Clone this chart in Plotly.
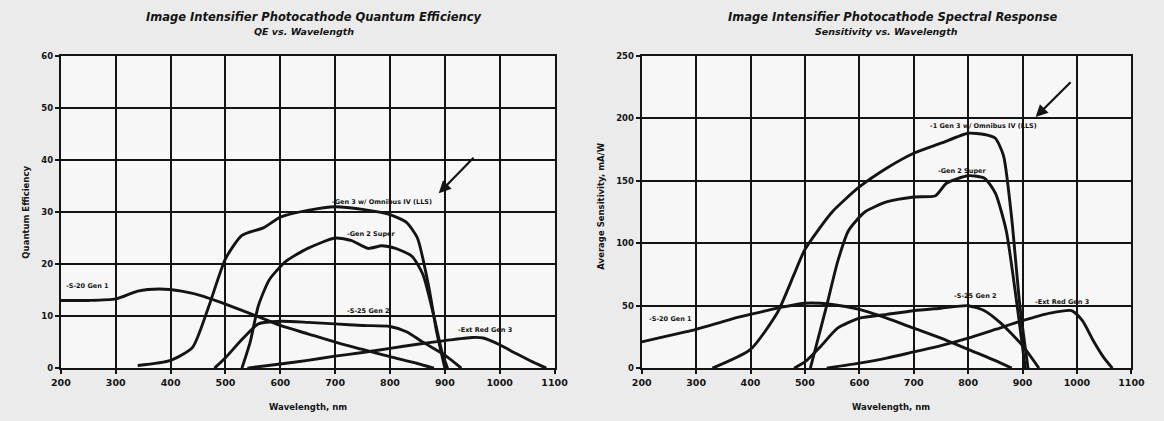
import plotly.graph_objects as go

# ---------------- Left chart: Quantum efficiency (%) ----------------
s20_wl = [200, 250, 300, 340, 380, 420, 460, 500, 550, 600, 650, 700, 750, 800, 850, 880]
s20_qe = [13.0, 13.0, 13.3, 14.8, 15.2, 14.8, 13.8, 12.3, 10.3, 8.2, 6.6, 5.0, 3.6, 2.2, 0.9, 0.0]

g3_wl = [340, 400, 440, 470, 500, 530, 570, 600, 650, 700, 750, 800, 830, 850, 870, 885, 900]
g3_qe = [0.5, 1.5, 4.0, 12.0, 21.0, 25.5, 27.0, 29.0, 30.3, 31.0, 30.5, 29.5, 28.0, 25.0, 16.0, 7.0, 0.0]

g2s_wl = [530, 545, 560, 580, 610, 650, 700, 730, 760, 785, 810, 840, 860, 880, 895, 905]
g2s_qe = [0.0, 5.0, 12.0, 17.0, 20.5, 23.0, 25.0, 24.5, 23.0, 23.5, 23.0, 21.5, 18.0, 10.0, 3.0, 0.0]

s25_wl = [480, 500, 530, 560, 600, 650, 700, 750, 800, 830, 860, 900, 930]
s25_qe = [0.0, 2.0, 5.5, 8.5, 9.0, 8.8, 8.5, 8.2, 8.0, 7.0, 5.0, 2.5, 0.0]

ext_wl = [540, 600, 650, 700, 750, 800, 850, 900, 950, 970, 1000, 1030, 1060, 1085]
ext_qe = [0.0, 0.8, 1.5, 2.3, 3.0, 3.8, 4.6, 5.3, 5.9, 5.8, 4.5, 2.8, 1.2, 0.0]

# ---------------- Right chart: sensitivity (mA/W) ----------------
s20_sens = [21, 26, 31, 36, 41, 45, 49, 52, 51, 47, 40, 32, 24, 15, 6, 0]
g3r_wl = [330, 400, 450, 480, 500, 550, 600, 650, 700, 750, 800, 830, 850, 865, 880, 895, 910]
g3r_sens = [0, 15, 45, 75, 95, 125, 145, 160, 172, 180, 188, 187, 184, 170, 120, 50, 0]
g2r_wl = [510, 540, 560, 580, 610, 650, 700, 740, 760, 800, 830, 850, 870, 890, 905]
g2r_sens = [0, 50, 85, 110, 125, 133, 137, 138, 148, 154, 152, 140, 110, 50, 0]
s25_sens = [0, 5, 18, 32, 40, 43, 46, 48, 50, 46, 36, 18, 0]
extr_wl = [540, 600, 650, 700, 750, 800, 850, 900, 950, 990, 1010, 1030, 1050, 1065]
extr_sens = [0, 4, 8, 13, 18, 24, 31, 38, 44, 46, 38, 22, 8, 0]

x_ticks = [200, 300, 400, 500, 600, 700, 800, 900, 1000, 1100]

W, H = 1164, 421
def px(x): return x / W
def py(y): return 1 - y / H

INK = "#141414"
FONT = "DejaVu Sans"

fig = go.Figure()

def add(x, y, xa, ya):
    fig.add_trace(go.Scatter(x=x, y=y, mode="lines", xaxis=xa, yaxis=ya,
                             line=dict(color=INK, width=2.9, shape="spline", smoothing=0.6),
                             showlegend=False, hoverinfo="skip"))

add(s20_wl, s20_qe, "x", "y")
add(g3_wl, g3_qe, "x", "y")
add(g2s_wl, g2s_qe, "x", "y")
add(s25_wl, s25_qe, "x", "y")
add(ext_wl, ext_qe, "x", "y")

add(s20_wl, s20_sens, "x2", "y2")
add(g3r_wl, g3r_sens, "x2", "y2")
add(g2r_wl, g2r_sens, "x2", "y2")
add(s25_wl, s25_sens, "x2", "y2")
add(extr_wl, extr_sens, "x2", "y2")

xtickfont = dict(family=FONT, size=9.5, color=INK, weight="bold")
ytickfont = dict(family=FONT, size=8.5, color=INK, weight="bold")
axis_common = dict(showgrid=True, gridcolor=INK, gridwidth=1.8, showline=True, linecolor=INK,
                   linewidth=2.2, mirror=True, ticks="outside", ticklen=4, tickcolor=INK,
                   tickwidth=1.8, zeroline=False, fixedrange=True)

ydom = [py(372), py(52)]
fig.update_layout(
    width=W, height=H, autosize=False,
    margin=dict(l=0, r=0, t=0, b=0),
    paper_bgcolor="#ebebeb", plot_bgcolor="#f7f7f7",
    xaxis=dict(domain=[px(52), px(556)], range=[200, 1100], tickvals=x_ticks, anchor="y",
               tickfont=xtickfont, **axis_common),
    yaxis=dict(domain=ydom, range=[0, 60], dtick=10, anchor="x", tickfont=ytickfont, **axis_common),
    xaxis2=dict(domain=[px(645), px(1145)], range=[200, 1100], tickvals=x_ticks, anchor="y2",
                tickfont=xtickfont, **axis_common),
    yaxis2=dict(domain=ydom, range=[0, 250], dtick=50, anchor="x2", tickfont=ytickfont, **axis_common),
)

def paper_text(x, y, text, size, angle=0):
    fig.add_annotation(x=px(x), y=py(y), xref="paper", yref="paper", text=text, showarrow=False,
                       textangle=angle, xanchor="center", yanchor="middle", borderpad=0,
                       font=dict(family=FONT, size=size, color=INK, weight="bold"))

# Titles
paper_text(310, 12, "<i>Image Intensifier Photocathode Quantum Efficiency</i>", 11.5)
paper_text(300, 27, "<i>QE vs. Wavelength</i>", 9.5)
paper_text(902, 12, "<i>Image Intensifier Photocathode Spectral Response</i>", 11.5)
paper_text(895, 27, "<i>Sensitivity vs. Wavelength</i>", 9.5)
# Axis titles
paper_text(304, 412, "Wavelength, nm", 8.5)
paper_text(900, 412, "Wavelength, nm", 8.5)
paper_text(16, 212, "Quantum Efficiency", 8.5, -90)
paper_text(604, 206, "Average Sensitivity, mA/W", 8.5, -90)

def label(x, y, text, xa, ya):
    fig.add_annotation(x=x, y=y, xref=xa, yref=ya, text=text, showarrow=False,
                       xanchor="left", yanchor="middle",
                       font=dict(family=FONT, size=6.5, color=INK, weight="bold"))

label(205, 15.8, "-S-20 Gen 1", "x", "y")
label(690, 32.0, "-Gen 3 w/ Omnibus IV (LLS)", "x", "y")
label(718, 25.8, "-Gen 2 Super", "x", "y")
label(718, 10.9, "-S-25 Gen 2", "x", "y")
label(920, 7.3, "-Ext Red Gen 3", "x", "y")

label(209, 39, "-S-20 Gen 1", "x2", "y2")
label(727, 194, "-1 Gen 3 w/ Omnibus IV (LLS)", "x2", "y2")
label(740, 158, "-Gen 2 Super", "x2", "y2")
label(770, 58, "-S-25 Gen 2", "x2", "y2")
label(920, 53, "-Ext Red Gen 3", "x2", "y2")

# Arrows
fig.add_annotation(x=889, y=33.6, ax=955, ay=40.7, xref="x", yref="y", axref="x", ayref="y",
                   text="", showarrow=True, arrowhead=2, arrowsize=1.1, arrowwidth=2.2, arrowcolor=INK)
fig.add_annotation(x=924, y=201, ax=991, ay=230, xref="x2", yref="y2", axref="x2", ayref="y2",
                   text="", showarrow=True, arrowhead=2, arrowsize=1.1, arrowwidth=2.2, arrowcolor=INK)

fig.write_html("out.html", config={"displayModeBar": False},
               post_script="document.body.style.margin='0';document.body.style.overflow='hidden';")
